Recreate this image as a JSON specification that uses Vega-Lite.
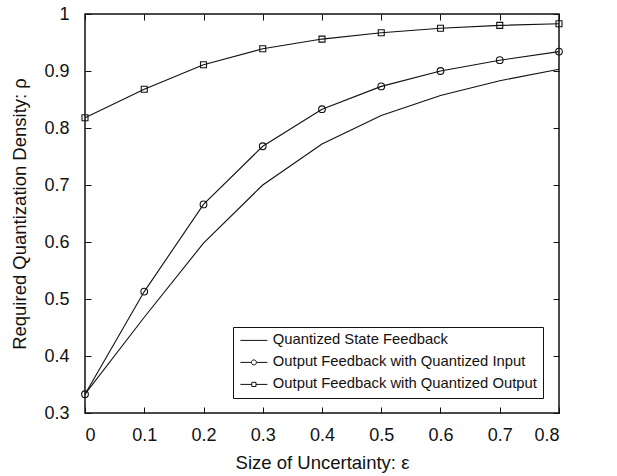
{
  "$schema": "https://vega.github.io/schema/vega-lite/v6.json",
  "autosize": {"type": "none"},
  "padding": {"left": 85, "top": 14, "right": 58, "bottom": 63},
  "width": 474,
  "height": 399,
  "background": "white",
  "config": {
    "font": "Liberation Sans",
    "view": {"stroke": "#111", "strokeWidth": 1.5},
    "axis": {
      "grid": false,
      "domain": false,
      "ticks": true,
      "tickColor": "#111",
      "tickSize": -6,
      "labelFontSize": 18,
      "labelColor": "#111",
      "titleFontSize": 18.5,
      "titleFontWeight": "normal",
      "titleColor": "#111",
      "labelFont": "Liberation Sans",
      "titleFont": "Liberation Sans"
    }
  },
  "data": {
    "values": [
      {"x": 0.0, "y": 0.333, "series": "Quantized State Feedback"},
      {"x": 0.1, "y": 0.468, "series": "Quantized State Feedback"},
      {"x": 0.2, "y": 0.598, "series": "Quantized State Feedback"},
      {"x": 0.3, "y": 0.700, "series": "Quantized State Feedback"},
      {"x": 0.4, "y": 0.772, "series": "Quantized State Feedback"},
      {"x": 0.5, "y": 0.822, "series": "Quantized State Feedback"},
      {"x": 0.6, "y": 0.857, "series": "Quantized State Feedback"},
      {"x": 0.7, "y": 0.883, "series": "Quantized State Feedback"},
      {"x": 0.8, "y": 0.903, "series": "Quantized State Feedback"},
      {"x": 0.0, "y": 0.333, "series": "Output Feedback with Quantized Input"},
      {"x": 0.1, "y": 0.513, "series": "Output Feedback with Quantized Input"},
      {"x": 0.2, "y": 0.666, "series": "Output Feedback with Quantized Input"},
      {"x": 0.3, "y": 0.768, "series": "Output Feedback with Quantized Input"},
      {"x": 0.4, "y": 0.833, "series": "Output Feedback with Quantized Input"},
      {"x": 0.5, "y": 0.873, "series": "Output Feedback with Quantized Input"},
      {"x": 0.6, "y": 0.900, "series": "Output Feedback with Quantized Input"},
      {"x": 0.7, "y": 0.919, "series": "Output Feedback with Quantized Input"},
      {"x": 0.8, "y": 0.934, "series": "Output Feedback with Quantized Input"},
      {"x": 0.0, "y": 0.818, "series": "Output Feedback with Quantized Output"},
      {"x": 0.1, "y": 0.868, "series": "Output Feedback with Quantized Output"},
      {"x": 0.2, "y": 0.911, "series": "Output Feedback with Quantized Output"},
      {"x": 0.3, "y": 0.939, "series": "Output Feedback with Quantized Output"},
      {"x": 0.4, "y": 0.956, "series": "Output Feedback with Quantized Output"},
      {"x": 0.5, "y": 0.967, "series": "Output Feedback with Quantized Output"},
      {"x": 0.6, "y": 0.975, "series": "Output Feedback with Quantized Output"},
      {"x": 0.7, "y": 0.980, "series": "Output Feedback with Quantized Output"},
      {"x": 0.8, "y": 0.983, "series": "Output Feedback with Quantized Output"}
    ]
  },
  "layer": [
    {
      "mark": {"type": "line", "color": "#111", "strokeWidth": 1.1},
      "encoding": {
        "x": {"field": "x", "type": "quantitative",
              "scale": {"domain": [0, 0.8], "nice": false, "zero": false},
              "axis": {"orient": "bottom", "values": [0,0.1,0.2,0.3,0.4,0.5,0.6,0.7,0.8], "format": "~g",
                       "title": "Size of Uncertainty: ε", "labelPadding": 19, "titlePadding": 9}},
        "y": {"field": "y", "type": "quantitative",
              "scale": {"domain": [0.3, 1], "nice": false, "zero": false},
              "axis": {"orient": "left", "values": [0.3,0.4,0.5,0.6,0.7,0.8,0.9,1], "format": "~g",
                       "title": "Required Quantization Density: ρ", "labelPadding": 22, "titlePadding": 14}},
        "detail": {"field": "series"}
      }
    },
    {
      "transform": [{"filter": "datum.series === 'Output Feedback with Quantized Input'"}],
      "mark": {"type": "point", "shape": "circle", "filled": false, "color": "#111", "size": 45, "strokeWidth": 1.1, "opacity": 1},
      "encoding": {
        "x": {"field": "x", "type": "quantitative",
              "axis": {"orient": "top", "values": [0,0.1,0.2,0.3,0.4,0.5,0.6,0.7,0.8], "labels": false, "title": null}},
        "y": {"field": "y", "type": "quantitative",
              "axis": {"orient": "right", "values": [0.3,0.4,0.5,0.6,0.7,0.8,0.9,1], "labels": false, "title": null}}
      }
    },
    {
      "transform": [{"filter": "datum.series === 'Output Feedback with Quantized Output'"}],
      "mark": {"type": "point", "shape": "square", "filled": false, "color": "#111", "size": 36, "strokeWidth": 1.1, "opacity": 1},
      "encoding": {
        "x": {"field": "x", "type": "quantitative", "axis": null},
        "y": {"field": "y", "type": "quantitative", "axis": null}
      }
    },
    {
      "mark": {"type": "point", "filled": false, "color": "#111", "opacity": 0, "size": 144, "strokeWidth": 1},
      "encoding": {
        "x": {"field": "x", "type": "quantitative", "axis": null},
        "y": {"field": "y", "type": "quantitative", "axis": null},
        "shape": {
          "field": "series", "type": "nominal",
          "scale": {
            "domain": ["Quantized State Feedback", "Output Feedback with Quantized Input", "Output Feedback with Quantized Output"],
            "range": [
              "M-1,0H3.5",
              "M-1,0H0.83M1.67,0H3.5M0.83,0A0.42,0.42,0,1,1,1.67,0A0.42,0.42,0,1,1,0.83,0",
              "M-1,0H0.9M1.6,0H3.5M0.9,-0.35H1.6V0.35H0.9Z"
            ]
          },
          "legend": {
            "title": null,
            "orient": "none",
            "legendX": 148,
            "legendY": 313,
            "strokeColor": "#111",
            "fillColor": "white",
            "padding": 6,
            "rowPadding": 6,
            "labelFontSize": 14.8,
            "labelColor": "#111",
            "labelFont": "Liberation Sans",
            "labelLimit": 0,
            "labelOffset": 19,
            "symbolSize": 144,
            "symbolOpacity": 1,
            "symbolStrokeColor": "#111",
            "symbolFillColor": "transparent",
            "symbolStrokeWidth": 1
          }
        }
      }
    }
  ],
  "resolve": {"axis": {"x": "independent", "y": "independent"}}
}
